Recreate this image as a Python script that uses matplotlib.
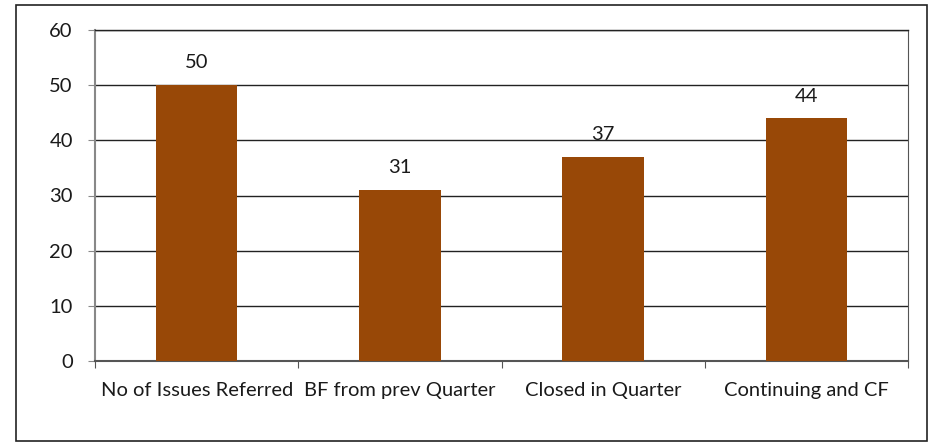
import matplotlib
matplotlib.use("Agg")
import matplotlib.pyplot as plt
from matplotlib.patches import Rectangle

categories = ["No of Issues Referred", "BF from prev Quarter", "Closed in Quarter", "Continuing and CF"]
values = [50, 31, 37, 44]
yticks = [0, 10, 20, 30, 40, 50, 60]

plt.rcParams["font.family"] = ["Lato", "DejaVu Sans"]
FS = 14.5

W, H = 930, 445
fig = plt.figure(figsize=(W / 100, H / 100), dpi=100)
fig.patch.set_facecolor("white")

# outer chart frame
fig.add_artist(Rectangle((16 / W, 1 - 441 / H), (927 - 16) / W, (441 - 5) / H,
                         transform=fig.transFigure, fill=False,
                         edgecolor="#222222", linewidth=1.2))

left, right, top, bottom = 95, 908, 30, 361
ax = fig.add_axes([left / W, 1 - bottom / H, (right - left) / W, (bottom - top) / H])

x = list(range(len(categories)))
ax.bar(x, values, width=0.4, color="#984807", zorder=3)
for xi, v in zip(x, values):
    ax.annotate(str(v), (xi, v), xytext=(0, 16), textcoords="offset points",
                ha="center", va="center", fontsize=FS, color="#1a1a1a")

ax.set_xlim(-0.5, len(categories) - 0.5)
ax.set_ylim(0, 60)
ax.set_yticks(yticks)
ax.set_yticklabels([str(t) for t in yticks], fontsize=FS, color="#1a1a1a")
ax.yaxis.grid(True, color="#222222", linewidth=1.0, zorder=0)
ax.set_axisbelow(True)

ax.set_xticks([i + 0.5 for i in range(-1, len(categories))])
ax.set_xticklabels([])
ax.set_xticks(x, minor=True)
ax.set_xticklabels(categories, minor=True, fontsize=FS, color="#1a1a1a")
ax.tick_params(axis="x", which="minor", length=0, pad=15)
ax.tick_params(axis="x", which="major", length=5, color="#555555", direction="out")
ax.tick_params(axis="y", length=5, color="#888888", pad=11)

ax.spines["top"].set_color("#222222")
ax.spines["top"].set_linewidth(1.0)
ax.spines["right"].set_color("#555555")
ax.spines["left"].set_color("#888888")
ax.spines["left"].set_linewidth(1.5)
ax.spines["bottom"].set_color("#555555")
ax.spines["bottom"].set_linewidth(1.5)

fig.savefig("out.png", dpi=100, facecolor="white")
